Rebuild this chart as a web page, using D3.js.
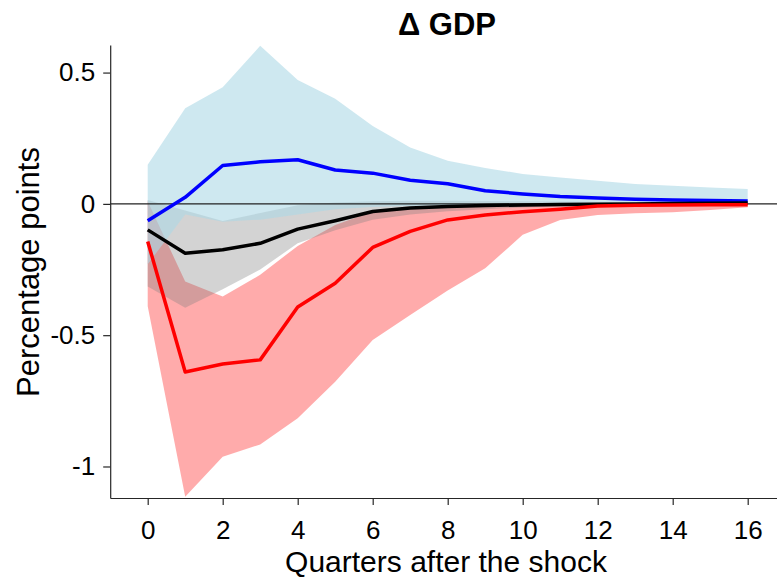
<!DOCTYPE html>
<html>
<head>
<meta charset="utf-8">
<script src="https://cdn.jsdelivr.net/npm/d3@7"></script>
<style>
  body { margin: 0; background: #fff; }
  svg { display: block; font-family: "Liberation Sans", Arial, sans-serif; }
</style>
</head>
<body>
<svg id="chart"></svg>
<script>
// quarters after the shock
var quarters = [0, 1, 2, 3, 4, 5, 6, 7, 8, 9, 10, 11, 12, 13, 14, 15, 16];

// blue response and its band
var blueMid = [-0.064, 0.025, 0.146, 0.160, 0.168, 0.129, 0.117, 0.090, 0.077, 0.050, 0.038, 0.028, 0.022, 0.018, 0.015, 0.013, 0.011];
var blueHi  = [0.149, 0.364, 0.444, 0.602, 0.472, 0.400, 0.297, 0.215, 0.164, 0.137, 0.114, 0.100, 0.088, 0.076, 0.069, 0.062, 0.057];
var blueLo  = [-0.230, -0.040, -0.068, -0.060, -0.040, -0.020, -0.012, -0.008, -0.005, -0.003, -0.002, -0.001, 0.000, 0.000, 0.001, 0.001, 0.002];

// black response and its band
var blackMid = [-0.099, -0.188, -0.175, -0.150, -0.096, -0.064, -0.029, -0.016, -0.010, -0.006, -0.004, -0.002, -0.001, 0.000, 0.001, 0.002, 0.003];
var grayHi   = [0.015, -0.025, -0.065, -0.035, -0.005, 0.005, 0.010, 0.012, 0.012, 0.011, 0.010, 0.009, 0.008, 0.007, 0.007, 0.006, 0.006];
var grayLo   = [-0.315, -0.396, -0.325, -0.250, -0.150, -0.100, -0.060, -0.040, -0.028, -0.020, -0.014, -0.010, -0.008, -0.006, -0.005, -0.004, -0.003];

// red response and its band
var redMid = [-0.143, -0.640, -0.610, -0.594, -0.393, -0.302, -0.166, -0.105, -0.061, -0.042, -0.030, -0.020, -0.008, -0.005, -0.004, -0.003, -0.003];
var redHi  = [0.010, -0.296, -0.353, -0.270, -0.160, -0.080, -0.029, -0.017, -0.010, -0.006, -0.004, -0.003, -0.002, -0.001, 0.000, 0.001, 0.002];
var redLo  = [-0.390, -1.115, -0.963, -0.916, -0.816, -0.677, -0.518, -0.423, -0.330, -0.245, -0.118, -0.061, -0.042, -0.036, -0.032, -0.023, -0.013];

var xTicks = [0, 2, 4, 6, 8, 10, 12, 14, 16];
var yTicks = [-1, -0.5, 0, 0.5];

var width = 777;
var height = 579;

var svg = d3.select("#chart")
  .attr("width", width)
  .attr("height", height);

var x = d3.scaleLinear().domain([-1, 17]).range([110.2, 785.2]);
var y = d3.scaleLinear().domain([-1.12, 0.605]).range([498, 45]);

// bands
var band = function(lo, hi){
  return d3.area()
    .x(function(d, i){ return x(quarters[i]); })
    .y0(function(d, i){ return y(lo[i]); })
    .y1(function(d, i){ return y(hi[i]); })(quarters);
};

svg.append("path").attr("d", band(redLo, redHi))
   .attr("fill", "rgb(255,0,0)").attr("fill-opacity", 0.33);
svg.append("path").attr("d", band(grayLo, grayHi))
   .attr("fill", "rgb(128,128,128)").attr("fill-opacity", 0.35);
svg.append("path").attr("d", band(blueLo, blueHi))
   .attr("fill", "#add8e6").attr("fill-opacity", 0.6);

// zero line
svg.append("line")
   .attr("x1", x(-1)).attr("x2", width)
   .attr("y1", y(0)).attr("y2", y(0))
   .attr("stroke", "#222").attr("stroke-width", 1.2);

// responses
var line = function(vals){
  return d3.line()
    .x(function(d, i){ return x(quarters[i]); })
    .y(function(d, i){ return y(vals[i]); })(quarters);
};

var series = [[blueMid, "#0000ff"], [blackMid, "#000000"], [redMid, "#ff0000"]];
series.forEach(function(s){
  svg.append("path").attr("d", line(s[0]))
     .attr("fill", "none")
     .attr("stroke", s[1])
     .attr("stroke-width", 3.5)
     .attr("stroke-linejoin", "round");
});

// axes
var xAxis = svg.append("g")
  .attr("transform", "translate(0," + y.range()[0] + ")")
  .call(d3.axisBottom(x).tickValues(xTicks).tickSize(7).tickSizeOuter(0).tickPadding(16));

var yAxis = svg.append("g")
  .attr("transform", "translate(" + x.range()[0] + ",0)")
  .call(d3.axisLeft(y).tickValues(yTicks).tickSize(7).tickSizeOuter(0).tickPadding(8)
        .tickFormat(function(d){ return String(d); }));

[xAxis, yAxis].forEach(function(a){
  a.select(".domain").attr("stroke", "#262626").attr("stroke-width", 1.2);
  a.selectAll(".tick line").attr("stroke", "#262626").attr("stroke-width", 1.2);
  a.selectAll(".tick text")
   .attr("fill", "#000")
   .style("font-size", "26px")
   .style("font-family", "'Liberation Sans', Arial, sans-serif");
});

// titles
svg.append("text")
   .attr("x", 447).attr("y", 35)
   .attr("text-anchor", "middle")
   .style("font-size", "31px").style("font-weight", "bold")
   .text("\u0394 GDP");

svg.append("text")
   .attr("x", 446).attr("y", 572)
   .attr("text-anchor", "middle")
   .style("font-size", "30px")
   .text("Quarters after the shock");

svg.append("text")
   .attr("transform", "translate(39,272) rotate(-90)")
   .attr("text-anchor", "middle")
   .style("font-size", "31px")
   .text("Percentage points");
</script>
</body>
</html>
